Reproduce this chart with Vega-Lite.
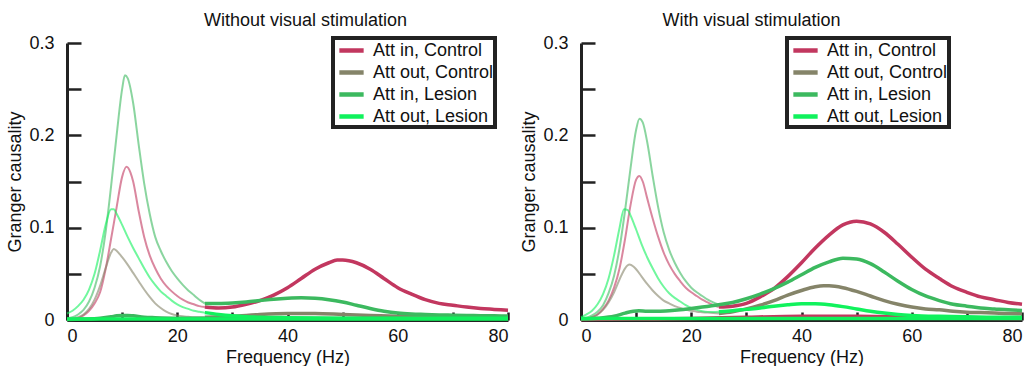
{
"$schema": "https://vega.github.io/schema/vega-lite/v6.json",
"background": "white",
"padding": {"left": 6, "top": 12, "right": 0, "bottom": 0},
"config": {
  "font": "Liberation Sans",
  "view": {"stroke": null},
  "concat": {"spacing": 5},
  "axis": {"grid": false, "domainColor": "#222", "domainWidth": 3, "tickColor": "#222", "tickWidth": 2.5, "labelFont": "Liberation Sans", "labelFontSize": 18, "labelColor": "#111", "titleFont": "Liberation Sans", "titleFontSize": 18, "titleFontWeight": "normal", "titleColor": "#111"},
  "title": {"font": "Liberation Sans", "fontSize": 18, "fontWeight": "normal", "color": "#111"},
  "legend": {"labelFont": "Liberation Sans", "labelFontSize": 18, "labelColor": "#111", "symbolType": "M-1.35,0H1.35", "symbolStrokeWidth": 4.5, "symbolSize": 324, "symbolOpacity": 1, "symbolFillColor": "transparent", "symbolOffset": 6, "rowPadding": 1, "padding": 1, "labelOffset": 10, "strokeColor": "#222", "fillColor": "white", "labelLimit": 300}
},
"datasets": {"curves": [
{"p":"L","s":"Att in, Control","k":"faded","f":0,"g":0},{"p":"L","s":"Att in, Control","k":"faded","f":1,"g":0.0005},{"p":"L","s":"Att in, Control","k":"faded","f":2,"g":0.002},{"p":"L","s":"Att in, Control","k":"faded","f":3,"g":0.005},{"p":"L","s":"Att in, Control","k":"faded","f":4,"g":0.01},{"p":"L","s":"Att in, Control","k":"faded","f":5,"g":0.018},{"p":"L","s":"Att in, Control","k":"faded","f":6,"g":0.03},{"p":"L","s":"Att in, Control","k":"faded","f":7,"g":0.055},{"p":"L","s":"Att in, Control","k":"faded","f":8,"g":0.088},{"p":"L","s":"Att in, Control","k":"faded","f":9,"g":0.122},{"p":"L","s":"Att in, Control","k":"faded","f":10,"g":0.155},{"p":"L","s":"Att in, Control","k":"faded","f":10.8,"g":0.166},{"p":"L","s":"Att in, Control","k":"faded","f":11.5,"g":0.16},{"p":"L","s":"Att in, Control","k":"faded","f":12,"g":0.15},{"p":"L","s":"Att in, Control","k":"faded","f":13,"g":0.118},{"p":"L","s":"Att in, Control","k":"faded","f":14,"g":0.09},{"p":"L","s":"Att in, Control","k":"faded","f":15,"g":0.07},{"p":"L","s":"Att in, Control","k":"faded","f":16,"g":0.056},{"p":"L","s":"Att in, Control","k":"faded","f":17,"g":0.045},{"p":"L","s":"Att in, Control","k":"faded","f":18,"g":0.037},{"p":"L","s":"Att in, Control","k":"faded","f":19,"g":0.031},{"p":"L","s":"Att in, Control","k":"faded","f":20,"g":0.026},{"p":"L","s":"Att in, Control","k":"faded","f":21,"g":0.022},{"p":"L","s":"Att in, Control","k":"faded","f":22,"g":0.019},{"p":"L","s":"Att in, Control","k":"faded","f":23,"g":0.017},{"p":"L","s":"Att in, Control","k":"faded","f":24,"g":0.015},{"p":"L","s":"Att in, Control","k":"faded","f":25,"g":0.014},
{"p":"L","s":"Att in, Control","k":"main","f":25,"g":0.014},{"p":"L","s":"Att in, Control","k":"main","f":27.5,"g":0.013},{"p":"L","s":"Att in, Control","k":"main","f":30,"g":0.014},{"p":"L","s":"Att in, Control","k":"main","f":32.5,"g":0.017},{"p":"L","s":"Att in, Control","k":"main","f":35,"g":0.021},{"p":"L","s":"Att in, Control","k":"main","f":37.5,"g":0.027},{"p":"L","s":"Att in, Control","k":"main","f":40,"g":0.035},{"p":"L","s":"Att in, Control","k":"main","f":42.5,"g":0.045},{"p":"L","s":"Att in, Control","k":"main","f":45,"g":0.055},{"p":"L","s":"Att in, Control","k":"main","f":47.5,"g":0.062},{"p":"L","s":"Att in, Control","k":"main","f":49,"g":0.065},{"p":"L","s":"Att in, Control","k":"main","f":50,"g":0.065},{"p":"L","s":"Att in, Control","k":"main","f":52.5,"g":0.062},{"p":"L","s":"Att in, Control","k":"main","f":55,"g":0.055},{"p":"L","s":"Att in, Control","k":"main","f":57.5,"g":0.045},{"p":"L","s":"Att in, Control","k":"main","f":60,"g":0.035},{"p":"L","s":"Att in, Control","k":"main","f":62.5,"g":0.028},{"p":"L","s":"Att in, Control","k":"main","f":65,"g":0.022},{"p":"L","s":"Att in, Control","k":"main","f":67.5,"g":0.018},{"p":"L","s":"Att in, Control","k":"main","f":70,"g":0.016},{"p":"L","s":"Att in, Control","k":"main","f":72.5,"g":0.014},{"p":"L","s":"Att in, Control","k":"main","f":75,"g":0.0125},{"p":"L","s":"Att in, Control","k":"main","f":77.5,"g":0.0115},{"p":"L","s":"Att in, Control","k":"main","f":80,"g":0.0105},
{"p":"L","s":"Att out, Control","k":"faded","f":0,"g":0},{"p":"L","s":"Att out, Control","k":"faded","f":1,"g":0.001},{"p":"L","s":"Att out, Control","k":"faded","f":2,"g":0.003},{"p":"L","s":"Att out, Control","k":"faded","f":3,"g":0.006},{"p":"L","s":"Att out, Control","k":"faded","f":4,"g":0.012},{"p":"L","s":"Att out, Control","k":"faded","f":5,"g":0.022},{"p":"L","s":"Att out, Control","k":"faded","f":6,"g":0.037},{"p":"L","s":"Att out, Control","k":"faded","f":7,"g":0.056},{"p":"L","s":"Att out, Control","k":"faded","f":8,"g":0.073},{"p":"L","s":"Att out, Control","k":"faded","f":8.5,"g":0.077},{"p":"L","s":"Att out, Control","k":"faded","f":9,"g":0.075},{"p":"L","s":"Att out, Control","k":"faded","f":10,"g":0.068},{"p":"L","s":"Att out, Control","k":"faded","f":11,"g":0.06},{"p":"L","s":"Att out, Control","k":"faded","f":12,"g":0.051},{"p":"L","s":"Att out, Control","k":"faded","f":13,"g":0.042},{"p":"L","s":"Att out, Control","k":"faded","f":14,"g":0.033},{"p":"L","s":"Att out, Control","k":"faded","f":15,"g":0.025},{"p":"L","s":"Att out, Control","k":"faded","f":16,"g":0.018},{"p":"L","s":"Att out, Control","k":"faded","f":17,"g":0.013},{"p":"L","s":"Att out, Control","k":"faded","f":18,"g":0.009},{"p":"L","s":"Att out, Control","k":"faded","f":19,"g":0.0065},{"p":"L","s":"Att out, Control","k":"faded","f":20,"g":0.005},{"p":"L","s":"Att out, Control","k":"faded","f":21,"g":0.004},{"p":"L","s":"Att out, Control","k":"faded","f":22,"g":0.0035},{"p":"L","s":"Att out, Control","k":"faded","f":23,"g":0.003},{"p":"L","s":"Att out, Control","k":"faded","f":25,"g":0.003},
{"p":"L","s":"Att out, Control","k":"main","f":25,"g":0.003},{"p":"L","s":"Att out, Control","k":"main","f":30,"g":0.004},{"p":"L","s":"Att out, Control","k":"main","f":35,"g":0.006},{"p":"L","s":"Att out, Control","k":"main","f":40,"g":0.007},{"p":"L","s":"Att out, Control","k":"main","f":45,"g":0.007},{"p":"L","s":"Att out, Control","k":"main","f":50,"g":0.006},{"p":"L","s":"Att out, Control","k":"main","f":55,"g":0.005},{"p":"L","s":"Att out, Control","k":"main","f":60,"g":0.004},{"p":"L","s":"Att out, Control","k":"main","f":65,"g":0.0035},{"p":"L","s":"Att out, Control","k":"main","f":70,"g":0.003},{"p":"L","s":"Att out, Control","k":"main","f":75,"g":0.0028},{"p":"L","s":"Att out, Control","k":"main","f":80,"g":0.0025},
{"p":"L","s":"Att in, Lesion","k":"faded","f":0,"g":0.002},{"p":"L","s":"Att in, Lesion","k":"faded","f":1,"g":0.003},{"p":"L","s":"Att in, Lesion","k":"faded","f":2,"g":0.006},{"p":"L","s":"Att in, Lesion","k":"faded","f":3,"g":0.011},{"p":"L","s":"Att in, Lesion","k":"faded","f":4,"g":0.02},{"p":"L","s":"Att in, Lesion","k":"faded","f":5,"g":0.035},{"p":"L","s":"Att in, Lesion","k":"faded","f":6,"g":0.058},{"p":"L","s":"Att in, Lesion","k":"faded","f":7,"g":0.095},{"p":"L","s":"Att in, Lesion","k":"faded","f":8,"g":0.145},{"p":"L","s":"Att in, Lesion","k":"faded","f":9,"g":0.2},{"p":"L","s":"Att in, Lesion","k":"faded","f":10,"g":0.25},{"p":"L","s":"Att in, Lesion","k":"faded","f":10.5,"g":0.265},{"p":"L","s":"Att in, Lesion","k":"faded","f":11,"g":0.262},{"p":"L","s":"Att in, Lesion","k":"faded","f":12,"g":0.235},{"p":"L","s":"Att in, Lesion","k":"faded","f":13,"g":0.19},{"p":"L","s":"Att in, Lesion","k":"faded","f":14,"g":0.148},{"p":"L","s":"Att in, Lesion","k":"faded","f":15,"g":0.115},{"p":"L","s":"Att in, Lesion","k":"faded","f":16,"g":0.09},{"p":"L","s":"Att in, Lesion","k":"faded","f":17,"g":0.075},{"p":"L","s":"Att in, Lesion","k":"faded","f":18,"g":0.063},{"p":"L","s":"Att in, Lesion","k":"faded","f":19,"g":0.053},{"p":"L","s":"Att in, Lesion","k":"faded","f":20,"g":0.045},{"p":"L","s":"Att in, Lesion","k":"faded","f":21,"g":0.038},{"p":"L","s":"Att in, Lesion","k":"faded","f":22,"g":0.032},{"p":"L","s":"Att in, Lesion","k":"faded","f":23,"g":0.027},{"p":"L","s":"Att in, Lesion","k":"faded","f":24,"g":0.022},{"p":"L","s":"Att in, Lesion","k":"faded","f":25,"g":0.018},
{"p":"L","s":"Att in, Lesion","k":"main","f":25,"g":0.018},{"p":"L","s":"Att in, Lesion","k":"main","f":27.5,"g":0.018},{"p":"L","s":"Att in, Lesion","k":"main","f":30,"g":0.0185},{"p":"L","s":"Att in, Lesion","k":"main","f":32.5,"g":0.0195},{"p":"L","s":"Att in, Lesion","k":"main","f":35,"g":0.021},{"p":"L","s":"Att in, Lesion","k":"main","f":37.5,"g":0.0225},{"p":"L","s":"Att in, Lesion","k":"main","f":40,"g":0.0235},{"p":"L","s":"Att in, Lesion","k":"main","f":42.5,"g":0.024},{"p":"L","s":"Att in, Lesion","k":"main","f":45,"g":0.0235},{"p":"L","s":"Att in, Lesion","k":"main","f":47.5,"g":0.022},{"p":"L","s":"Att in, Lesion","k":"main","f":50,"g":0.0195},{"p":"L","s":"Att in, Lesion","k":"main","f":52.5,"g":0.016},{"p":"L","s":"Att in, Lesion","k":"main","f":55,"g":0.0125},{"p":"L","s":"Att in, Lesion","k":"main","f":57.5,"g":0.0095},{"p":"L","s":"Att in, Lesion","k":"main","f":60,"g":0.0075},{"p":"L","s":"Att in, Lesion","k":"main","f":62.5,"g":0.0065},{"p":"L","s":"Att in, Lesion","k":"main","f":65,"g":0.006},{"p":"L","s":"Att in, Lesion","k":"main","f":67.5,"g":0.0055},{"p":"L","s":"Att in, Lesion","k":"main","f":70,"g":0.0052},{"p":"L","s":"Att in, Lesion","k":"main","f":72.5,"g":0.005},{"p":"L","s":"Att in, Lesion","k":"main","f":75,"g":0.0047},{"p":"L","s":"Att in, Lesion","k":"main","f":77.5,"g":0.0045},{"p":"L","s":"Att in, Lesion","k":"main","f":80,"g":0.0043},
{"p":"L","s":"Att in, Lesion","k":"base","f":0,"g":0.0005},{"p":"L","s":"Att in, Lesion","k":"base","f":3,"g":0.001},{"p":"L","s":"Att in, Lesion","k":"base","f":6,"g":0.002},{"p":"L","s":"Att in, Lesion","k":"base","f":8,"g":0.0035},{"p":"L","s":"Att in, Lesion","k":"base","f":9,"g":0.0045},{"p":"L","s":"Att in, Lesion","k":"base","f":10,"g":0.005},{"p":"L","s":"Att in, Lesion","k":"base","f":11,"g":0.005},{"p":"L","s":"Att in, Lesion","k":"base","f":12,"g":0.0045},{"p":"L","s":"Att in, Lesion","k":"base","f":14,"g":0.003},{"p":"L","s":"Att in, Lesion","k":"base","f":16,"g":0.0025},{"p":"L","s":"Att in, Lesion","k":"base","f":20,"g":0.002},{"p":"L","s":"Att in, Lesion","k":"base","f":30,"g":0.002},{"p":"L","s":"Att in, Lesion","k":"base","f":40,"g":0.002},{"p":"L","s":"Att in, Lesion","k":"base","f":60,"g":0.0015},{"p":"L","s":"Att in, Lesion","k":"base","f":80,"g":0.0015},
{"p":"L","s":"Att out, Lesion","k":"faded","f":0,"g":0.007},{"p":"L","s":"Att out, Lesion","k":"faded","f":1,"g":0.01},{"p":"L","s":"Att out, Lesion","k":"faded","f":2,"g":0.015},{"p":"L","s":"Att out, Lesion","k":"faded","f":3,"g":0.022},{"p":"L","s":"Att out, Lesion","k":"faded","f":4,"g":0.033},{"p":"L","s":"Att out, Lesion","k":"faded","f":5,"g":0.05},{"p":"L","s":"Att out, Lesion","k":"faded","f":6,"g":0.075},{"p":"L","s":"Att out, Lesion","k":"faded","f":7,"g":0.103},{"p":"L","s":"Att out, Lesion","k":"faded","f":8,"g":0.12},{"p":"L","s":"Att out, Lesion","k":"faded","f":8.5,"g":0.12},{"p":"L","s":"Att out, Lesion","k":"faded","f":9,"g":0.115},{"p":"L","s":"Att out, Lesion","k":"faded","f":10,"g":0.103},{"p":"L","s":"Att out, Lesion","k":"faded","f":11,"g":0.09},{"p":"L","s":"Att out, Lesion","k":"faded","f":12,"g":0.078},{"p":"L","s":"Att out, Lesion","k":"faded","f":13,"g":0.067},{"p":"L","s":"Att out, Lesion","k":"faded","f":14,"g":0.056},{"p":"L","s":"Att out, Lesion","k":"faded","f":15,"g":0.046},{"p":"L","s":"Att out, Lesion","k":"faded","f":16,"g":0.038},{"p":"L","s":"Att out, Lesion","k":"faded","f":17,"g":0.031},{"p":"L","s":"Att out, Lesion","k":"faded","f":18,"g":0.026},{"p":"L","s":"Att out, Lesion","k":"faded","f":19,"g":0.021},{"p":"L","s":"Att out, Lesion","k":"faded","f":20,"g":0.017},{"p":"L","s":"Att out, Lesion","k":"faded","f":21,"g":0.014},{"p":"L","s":"Att out, Lesion","k":"faded","f":22,"g":0.012},{"p":"L","s":"Att out, Lesion","k":"faded","f":23,"g":0.01},{"p":"L","s":"Att out, Lesion","k":"faded","f":24,"g":0.009},{"p":"L","s":"Att out, Lesion","k":"faded","f":25,"g":0.008},
{"p":"L","s":"Att out, Lesion","k":"main","f":25,"g":0.008},{"p":"L","s":"Att out, Lesion","k":"main","f":27.5,"g":0.006},{"p":"L","s":"Att out, Lesion","k":"main","f":30,"g":0.0045},{"p":"L","s":"Att out, Lesion","k":"main","f":32.5,"g":0.0035},{"p":"L","s":"Att out, Lesion","k":"main","f":35,"g":0.003},{"p":"L","s":"Att out, Lesion","k":"main","f":40,"g":0.0025},{"p":"L","s":"Att out, Lesion","k":"main","f":50,"g":0.002},{"p":"L","s":"Att out, Lesion","k":"main","f":60,"g":0.002},{"p":"L","s":"Att out, Lesion","k":"main","f":70,"g":0.0018},{"p":"L","s":"Att out, Lesion","k":"main","f":80,"g":0.0018},
{"p":"L","s":"Att out, Lesion","k":"base","f":0,"g":0.001},{"p":"L","s":"Att out, Lesion","k":"base","f":20,"g":0.001},{"p":"L","s":"Att out, Lesion","k":"base","f":40,"g":0.0012},{"p":"L","s":"Att out, Lesion","k":"base","f":60,"g":0.0012},{"p":"L","s":"Att out, Lesion","k":"base","f":80,"g":0.0012},

{"p":"R","s":"Att in, Control","k":"faded","f":0,"g":0},{"p":"R","s":"Att in, Control","k":"faded","f":1,"g":0.001},{"p":"R","s":"Att in, Control","k":"faded","f":2,"g":0.003},{"p":"R","s":"Att in, Control","k":"faded","f":3,"g":0.006},{"p":"R","s":"Att in, Control","k":"faded","f":4,"g":0.012},{"p":"R","s":"Att in, Control","k":"faded","f":5,"g":0.021},{"p":"R","s":"Att in, Control","k":"faded","f":6,"g":0.035},{"p":"R","s":"Att in, Control","k":"faded","f":7,"g":0.056},{"p":"R","s":"Att in, Control","k":"faded","f":8,"g":0.088},{"p":"R","s":"Att in, Control","k":"faded","f":9,"g":0.125},{"p":"R","s":"Att in, Control","k":"faded","f":10,"g":0.152},{"p":"R","s":"Att in, Control","k":"faded","f":10.6,"g":0.156},{"p":"R","s":"Att in, Control","k":"faded","f":11.2,"g":0.15},{"p":"R","s":"Att in, Control","k":"faded","f":12,"g":0.132},{"p":"R","s":"Att in, Control","k":"faded","f":13,"g":0.11},{"p":"R","s":"Att in, Control","k":"faded","f":14,"g":0.09},{"p":"R","s":"Att in, Control","k":"faded","f":15,"g":0.073},{"p":"R","s":"Att in, Control","k":"faded","f":16,"g":0.06},{"p":"R","s":"Att in, Control","k":"faded","f":17,"g":0.05},{"p":"R","s":"Att in, Control","k":"faded","f":18,"g":0.042},{"p":"R","s":"Att in, Control","k":"faded","f":19,"g":0.035},{"p":"R","s":"Att in, Control","k":"faded","f":20,"g":0.03},{"p":"R","s":"Att in, Control","k":"faded","f":21,"g":0.026},{"p":"R","s":"Att in, Control","k":"faded","f":22,"g":0.022},{"p":"R","s":"Att in, Control","k":"faded","f":23,"g":0.019},{"p":"R","s":"Att in, Control","k":"faded","f":24,"g":0.016},{"p":"R","s":"Att in, Control","k":"faded","f":25,"g":0.014},
{"p":"R","s":"Att in, Control","k":"main","f":25,"g":0.014},{"p":"R","s":"Att in, Control","k":"main","f":27.5,"g":0.015},{"p":"R","s":"Att in, Control","k":"main","f":30,"g":0.018},{"p":"R","s":"Att in, Control","k":"main","f":32.5,"g":0.025},{"p":"R","s":"Att in, Control","k":"main","f":35,"g":0.034},{"p":"R","s":"Att in, Control","k":"main","f":37.5,"g":0.047},{"p":"R","s":"Att in, Control","k":"main","f":40,"g":0.062},{"p":"R","s":"Att in, Control","k":"main","f":42.5,"g":0.078},{"p":"R","s":"Att in, Control","k":"main","f":45,"g":0.092},{"p":"R","s":"Att in, Control","k":"main","f":47.5,"g":0.103},{"p":"R","s":"Att in, Control","k":"main","f":50,"g":0.107},{"p":"R","s":"Att in, Control","k":"main","f":52.5,"g":0.104},{"p":"R","s":"Att in, Control","k":"main","f":55,"g":0.095},{"p":"R","s":"Att in, Control","k":"main","f":57.5,"g":0.082},{"p":"R","s":"Att in, Control","k":"main","f":60,"g":0.068},{"p":"R","s":"Att in, Control","k":"main","f":62.5,"g":0.055},{"p":"R","s":"Att in, Control","k":"main","f":65,"g":0.045},{"p":"R","s":"Att in, Control","k":"main","f":67.5,"g":0.036},{"p":"R","s":"Att in, Control","k":"main","f":70,"g":0.03},{"p":"R","s":"Att in, Control","k":"main","f":72.5,"g":0.025},{"p":"R","s":"Att in, Control","k":"main","f":75,"g":0.022},{"p":"R","s":"Att in, Control","k":"main","f":77.5,"g":0.019},{"p":"R","s":"Att in, Control","k":"main","f":80,"g":0.017},
{"p":"R","s":"Att in, Control","k":"base","f":0,"g":0.0005},{"p":"R","s":"Att in, Control","k":"base","f":10,"g":0.001},{"p":"R","s":"Att in, Control","k":"base","f":20,"g":0.0015},{"p":"R","s":"Att in, Control","k":"base","f":30,"g":0.003},{"p":"R","s":"Att in, Control","k":"base","f":40,"g":0.004},{"p":"R","s":"Att in, Control","k":"base","f":50,"g":0.004},{"p":"R","s":"Att in, Control","k":"base","f":60,"g":0.003},{"p":"R","s":"Att in, Control","k":"base","f":70,"g":0.002},{"p":"R","s":"Att in, Control","k":"base","f":80,"g":0.0015},
{"p":"R","s":"Att out, Control","k":"faded","f":0,"g":0},{"p":"R","s":"Att out, Control","k":"faded","f":1,"g":0.001},{"p":"R","s":"Att out, Control","k":"faded","f":2,"g":0.003},{"p":"R","s":"Att out, Control","k":"faded","f":3,"g":0.006},{"p":"R","s":"Att out, Control","k":"faded","f":4,"g":0.011},{"p":"R","s":"Att out, Control","k":"faded","f":5,"g":0.019},{"p":"R","s":"Att out, Control","k":"faded","f":6,"g":0.03},{"p":"R","s":"Att out, Control","k":"faded","f":7,"g":0.044},{"p":"R","s":"Att out, Control","k":"faded","f":8,"g":0.056},{"p":"R","s":"Att out, Control","k":"faded","f":8.8,"g":0.06},{"p":"R","s":"Att out, Control","k":"faded","f":9.5,"g":0.058},{"p":"R","s":"Att out, Control","k":"faded","f":10,"g":0.055},{"p":"R","s":"Att out, Control","k":"faded","f":11,"g":0.047},{"p":"R","s":"Att out, Control","k":"faded","f":12,"g":0.039},{"p":"R","s":"Att out, Control","k":"faded","f":13,"g":0.032},{"p":"R","s":"Att out, Control","k":"faded","f":14,"g":0.026},{"p":"R","s":"Att out, Control","k":"faded","f":15,"g":0.021},{"p":"R","s":"Att out, Control","k":"faded","f":16,"g":0.018},{"p":"R","s":"Att out, Control","k":"faded","f":17,"g":0.015},{"p":"R","s":"Att out, Control","k":"faded","f":18,"g":0.013},{"p":"R","s":"Att out, Control","k":"faded","f":19,"g":0.011},{"p":"R","s":"Att out, Control","k":"faded","f":20,"g":0.01},{"p":"R","s":"Att out, Control","k":"faded","f":21,"g":0.009},{"p":"R","s":"Att out, Control","k":"faded","f":22,"g":0.0085},{"p":"R","s":"Att out, Control","k":"faded","f":23,"g":0.008},{"p":"R","s":"Att out, Control","k":"faded","f":24,"g":0.0075},{"p":"R","s":"Att out, Control","k":"faded","f":25,"g":0.007},
{"p":"R","s":"Att out, Control","k":"main","f":25,"g":0.007},{"p":"R","s":"Att out, Control","k":"main","f":27.5,"g":0.009},{"p":"R","s":"Att out, Control","k":"main","f":30,"g":0.012},{"p":"R","s":"Att out, Control","k":"main","f":32.5,"g":0.016},{"p":"R","s":"Att out, Control","k":"main","f":35,"g":0.021},{"p":"R","s":"Att out, Control","k":"main","f":37.5,"g":0.027},{"p":"R","s":"Att out, Control","k":"main","f":40,"g":0.032},{"p":"R","s":"Att out, Control","k":"main","f":42.5,"g":0.036},{"p":"R","s":"Att out, Control","k":"main","f":44,"g":0.037},{"p":"R","s":"Att out, Control","k":"main","f":45,"g":0.037},{"p":"R","s":"Att out, Control","k":"main","f":47.5,"g":0.035},{"p":"R","s":"Att out, Control","k":"main","f":50,"g":0.031},{"p":"R","s":"Att out, Control","k":"main","f":52.5,"g":0.026},{"p":"R","s":"Att out, Control","k":"main","f":55,"g":0.021},{"p":"R","s":"Att out, Control","k":"main","f":57.5,"g":0.017},{"p":"R","s":"Att out, Control","k":"main","f":60,"g":0.014},{"p":"R","s":"Att out, Control","k":"main","f":62.5,"g":0.012},{"p":"R","s":"Att out, Control","k":"main","f":65,"g":0.011},{"p":"R","s":"Att out, Control","k":"main","f":67.5,"g":0.0095},{"p":"R","s":"Att out, Control","k":"main","f":70,"g":0.0085},{"p":"R","s":"Att out, Control","k":"main","f":72.5,"g":0.008},{"p":"R","s":"Att out, Control","k":"main","f":75,"g":0.0075},{"p":"R","s":"Att out, Control","k":"main","f":77.5,"g":0.007},{"p":"R","s":"Att out, Control","k":"main","f":80,"g":0.0068},
{"p":"R","s":"Att in, Lesion","k":"faded","f":0,"g":0.002},{"p":"R","s":"Att in, Lesion","k":"faded","f":1,"g":0.0025},{"p":"R","s":"Att in, Lesion","k":"faded","f":2,"g":0.005},{"p":"R","s":"Att in, Lesion","k":"faded","f":3,"g":0.009},{"p":"R","s":"Att in, Lesion","k":"faded","f":4,"g":0.016},{"p":"R","s":"Att in, Lesion","k":"faded","f":5,"g":0.029},{"p":"R","s":"Att in, Lesion","k":"faded","f":6,"g":0.048},{"p":"R","s":"Att in, Lesion","k":"faded","f":7,"g":0.078},{"p":"R","s":"Att in, Lesion","k":"faded","f":8,"g":0.119},{"p":"R","s":"Att in, Lesion","k":"faded","f":9,"g":0.165},{"p":"R","s":"Att in, Lesion","k":"faded","f":10,"g":0.206},{"p":"R","s":"Att in, Lesion","k":"faded","f":10.6,"g":0.218},{"p":"R","s":"Att in, Lesion","k":"faded","f":11.2,"g":0.214},{"p":"R","s":"Att in, Lesion","k":"faded","f":12,"g":0.193},{"p":"R","s":"Att in, Lesion","k":"faded","f":13,"g":0.156},{"p":"R","s":"Att in, Lesion","k":"faded","f":14,"g":0.122},{"p":"R","s":"Att in, Lesion","k":"faded","f":15,"g":0.095},{"p":"R","s":"Att in, Lesion","k":"faded","f":16,"g":0.076},{"p":"R","s":"Att in, Lesion","k":"faded","f":17,"g":0.062},{"p":"R","s":"Att in, Lesion","k":"faded","f":18,"g":0.051},{"p":"R","s":"Att in, Lesion","k":"faded","f":19,"g":0.042},{"p":"R","s":"Att in, Lesion","k":"faded","f":20,"g":0.035},{"p":"R","s":"Att in, Lesion","k":"faded","f":21,"g":0.03},{"p":"R","s":"Att in, Lesion","k":"faded","f":22,"g":0.026},{"p":"R","s":"Att in, Lesion","k":"faded","f":23,"g":0.022},{"p":"R","s":"Att in, Lesion","k":"faded","f":24,"g":0.019},{"p":"R","s":"Att in, Lesion","k":"faded","f":25,"g":0.0165},
{"p":"R","s":"Att in, Lesion","k":"main","f":0,"g":0.001},{"p":"R","s":"Att in, Lesion","k":"main","f":3,"g":0.002},{"p":"R","s":"Att in, Lesion","k":"main","f":6,"g":0.004},{"p":"R","s":"Att in, Lesion","k":"main","f":8,"g":0.0075},{"p":"R","s":"Att in, Lesion","k":"main","f":9.5,"g":0.0095},{"p":"R","s":"Att in, Lesion","k":"main","f":10.5,"g":0.01},{"p":"R","s":"Att in, Lesion","k":"main","f":12,"g":0.0095},{"p":"R","s":"Att in, Lesion","k":"main","f":14,"g":0.0095},{"p":"R","s":"Att in, Lesion","k":"main","f":16,"g":0.01},{"p":"R","s":"Att in, Lesion","k":"main","f":18,"g":0.011},{"p":"R","s":"Att in, Lesion","k":"main","f":20,"g":0.0125},{"p":"R","s":"Att in, Lesion","k":"main","f":22,"g":0.014},{"p":"R","s":"Att in, Lesion","k":"main","f":25,"g":0.0165},{"p":"R","s":"Att in, Lesion","k":"main","f":27.5,"g":0.019},{"p":"R","s":"Att in, Lesion","k":"main","f":30,"g":0.023},{"p":"R","s":"Att in, Lesion","k":"main","f":32.5,"g":0.028},{"p":"R","s":"Att in, Lesion","k":"main","f":35,"g":0.034},{"p":"R","s":"Att in, Lesion","k":"main","f":37.5,"g":0.041},{"p":"R","s":"Att in, Lesion","k":"main","f":40,"g":0.049},{"p":"R","s":"Att in, Lesion","k":"main","f":42.5,"g":0.057},{"p":"R","s":"Att in, Lesion","k":"main","f":45,"g":0.063},{"p":"R","s":"Att in, Lesion","k":"main","f":47.5,"g":0.067},{"p":"R","s":"Att in, Lesion","k":"main","f":50,"g":0.066},{"p":"R","s":"Att in, Lesion","k":"main","f":52.5,"g":0.061},{"p":"R","s":"Att in, Lesion","k":"main","f":55,"g":0.052},{"p":"R","s":"Att in, Lesion","k":"main","f":57.5,"g":0.042},{"p":"R","s":"Att in, Lesion","k":"main","f":60,"g":0.033},{"p":"R","s":"Att in, Lesion","k":"main","f":62.5,"g":0.026},{"p":"R","s":"Att in, Lesion","k":"main","f":65,"g":0.021},{"p":"R","s":"Att in, Lesion","k":"main","f":67.5,"g":0.017},{"p":"R","s":"Att in, Lesion","k":"main","f":70,"g":0.015},{"p":"R","s":"Att in, Lesion","k":"main","f":72.5,"g":0.013},{"p":"R","s":"Att in, Lesion","k":"main","f":75,"g":0.012},{"p":"R","s":"Att in, Lesion","k":"main","f":77.5,"g":0.011},{"p":"R","s":"Att in, Lesion","k":"main","f":80,"g":0.0104},
{"p":"R","s":"Att out, Lesion","k":"faded","f":0,"g":0.003},{"p":"R","s":"Att out, Lesion","k":"faded","f":1,"g":0.006},{"p":"R","s":"Att out, Lesion","k":"faded","f":2,"g":0.01},{"p":"R","s":"Att out, Lesion","k":"faded","f":3,"g":0.017},{"p":"R","s":"Att out, Lesion","k":"faded","f":4,"g":0.028},{"p":"R","s":"Att out, Lesion","k":"faded","f":5,"g":0.045},{"p":"R","s":"Att out, Lesion","k":"faded","f":6,"g":0.07},{"p":"R","s":"Att out, Lesion","k":"faded","f":7,"g":0.1},{"p":"R","s":"Att out, Lesion","k":"faded","f":7.8,"g":0.12},{"p":"R","s":"Att out, Lesion","k":"faded","f":8.5,"g":0.119},{"p":"R","s":"Att out, Lesion","k":"faded","f":9,"g":0.113},{"p":"R","s":"Att out, Lesion","k":"faded","f":10,"g":0.098},{"p":"R","s":"Att out, Lesion","k":"faded","f":11,"g":0.082},{"p":"R","s":"Att out, Lesion","k":"faded","f":12,"g":0.068},{"p":"R","s":"Att out, Lesion","k":"faded","f":13,"g":0.056},{"p":"R","s":"Att out, Lesion","k":"faded","f":14,"g":0.045},{"p":"R","s":"Att out, Lesion","k":"faded","f":15,"g":0.036},{"p":"R","s":"Att out, Lesion","k":"faded","f":16,"g":0.029},{"p":"R","s":"Att out, Lesion","k":"faded","f":17,"g":0.024},{"p":"R","s":"Att out, Lesion","k":"faded","f":18,"g":0.02},{"p":"R","s":"Att out, Lesion","k":"faded","f":19,"g":0.016},{"p":"R","s":"Att out, Lesion","k":"faded","f":20,"g":0.013},{"p":"R","s":"Att out, Lesion","k":"faded","f":21,"g":0.011},{"p":"R","s":"Att out, Lesion","k":"faded","f":22,"g":0.0095},{"p":"R","s":"Att out, Lesion","k":"faded","f":23,"g":0.0088},{"p":"R","s":"Att out, Lesion","k":"faded","f":24,"g":0.0087},{"p":"R","s":"Att out, Lesion","k":"faded","f":25,"g":0.009},
{"p":"R","s":"Att out, Lesion","k":"main","f":25,"g":0.009},{"p":"R","s":"Att out, Lesion","k":"main","f":27.5,"g":0.01},{"p":"R","s":"Att out, Lesion","k":"main","f":30,"g":0.0115},{"p":"R","s":"Att out, Lesion","k":"main","f":32.5,"g":0.013},{"p":"R","s":"Att out, Lesion","k":"main","f":35,"g":0.015},{"p":"R","s":"Att out, Lesion","k":"main","f":37.5,"g":0.0165},{"p":"R","s":"Att out, Lesion","k":"main","f":40,"g":0.0175},{"p":"R","s":"Att out, Lesion","k":"main","f":42.5,"g":0.0175},{"p":"R","s":"Att out, Lesion","k":"main","f":45,"g":0.0165},{"p":"R","s":"Att out, Lesion","k":"main","f":47.5,"g":0.0145},{"p":"R","s":"Att out, Lesion","k":"main","f":50,"g":0.012},{"p":"R","s":"Att out, Lesion","k":"main","f":52.5,"g":0.0095},{"p":"R","s":"Att out, Lesion","k":"main","f":55,"g":0.0075},{"p":"R","s":"Att out, Lesion","k":"main","f":57.5,"g":0.006},{"p":"R","s":"Att out, Lesion","k":"main","f":60,"g":0.005},{"p":"R","s":"Att out, Lesion","k":"main","f":65,"g":0.004},{"p":"R","s":"Att out, Lesion","k":"main","f":70,"g":0.0035},{"p":"R","s":"Att out, Lesion","k":"main","f":75,"g":0.003},{"p":"R","s":"Att out, Lesion","k":"main","f":80,"g":0.003},
{"p":"R","s":"Att out, Lesion","k":"base","f":0,"g":0.0015},{"p":"R","s":"Att out, Lesion","k":"base","f":20,"g":0.0015},{"p":"R","s":"Att out, Lesion","k":"base","f":40,"g":0.0015},{"p":"R","s":"Att out, Lesion","k":"base","f":60,"g":0.0015},{"p":"R","s":"Att out, Lesion","k":"base","f":80,"g":0.0015}
]},
"data": {"name": "curves"},
"resolve": {"legend": {"color": "independent"}},
"hconcat": [
 {
  "width": 441, "height": 277,
  "title": {"text": "Without visual stimulation", "dx": 18, "offset": 4},
  "transform": [{"filter": "datum.p == 'L'"}],
  "encoding": {
    "x": {"field": "f", "type": "quantitative", "scale": {"domain": [0, 80], "nice": false},
      "axis": {"title": "Frequency (Hz)", "values": [0,10,20,30,40,50,60,70,80], "labelExpr": "datum.value % 20 == 0 ? datum.label : ''", "tickSize": -8, "labelPadding": 15, "titlePadding": 3}},
    "y": {"field": "g", "type": "quantitative", "scale": {"domain": [0, 0.3], "nice": false},
      "axis": {"title": "Granger causality", "values": [0,0.05,0.1,0.15,0.2,0.25,0.3], "format": ".2~f", "labelExpr": "indexof(['0','0.1','0.2','0.3'], datum.label) >= 0 ? datum.label : ''", "tickSize": -14, "labelPadding": 27, "titlePadding": 4}},
    "color": {"field": "s", "type": "nominal",
      "scale": {"domain": ["Att in, Control", "Att out, Control", "Att in, Lesion", "Att out, Lesion"], "range": ["#c2375f", "#858469", "#3cb95f", "#10f25c"]},
      "legend": {"title": null, "orient": "none", "legendX": 266, "legendY": -5, "encode": {"legend": {"update": {"strokeWidth": {"value": 4}, "width": {"value": 166}}}}}}
  },
  "layer": [
    {"transform": [{"filter": "datum.k == 'faded'"}], "mark": {"type": "line", "strokeWidth": 2, "opacity": 0.6, "interpolate": "monotone"}},
    {"transform": [{"filter": "datum.k != 'faded'"}], "mark": {"type": "line", "strokeWidth": 3.5, "interpolate": "monotone"}, "encoding": {"detail": {"field": "k"}}}
  ]
 },
 {
  "width": 441, "height": 277,
  "title": {"text": "With visual stimulation", "dx": -50, "offset": 4},
  "transform": [{"filter": "datum.p == 'R'"}],
  "encoding": {
    "x": {"field": "f", "type": "quantitative", "scale": {"domain": [0, 80], "nice": false},
      "axis": {"title": "Frequency (Hz)", "values": [0,10,20,30,40,50,60,70,80], "labelExpr": "datum.value % 20 == 0 ? datum.label : ''", "tickSize": -8, "labelPadding": 15, "titlePadding": 3}},
    "y": {"field": "g", "type": "quantitative", "scale": {"domain": [0, 0.3], "nice": false},
      "axis": {"title": "Granger causality", "values": [0,0.05,0.1,0.15,0.2,0.25,0.3], "format": ".2~f", "labelExpr": "indexof(['0','0.1','0.2','0.3'], datum.label) >= 0 ? datum.label : ''", "tickSize": -14, "labelPadding": 27, "titlePadding": 4}},
    "color": {"field": "s", "type": "nominal",
      "scale": {"domain": ["Att in, Control", "Att out, Control", "Att in, Lesion", "Att out, Lesion"], "range": ["#c2375f", "#858469", "#3cb95f", "#10f25c"]},
      "legend": {"title": null, "orient": "none", "legendX": 206, "legendY": -5, "encode": {"legend": {"update": {"strokeWidth": {"value": 4}, "width": {"value": 166}}}}}}
  },
  "layer": [
    {"transform": [{"filter": "datum.k == 'faded'"}], "mark": {"type": "line", "strokeWidth": 2, "opacity": 0.6, "interpolate": "monotone"}},
    {"transform": [{"filter": "datum.k != 'faded'"}], "mark": {"type": "line", "strokeWidth": 3.5, "interpolate": "monotone"}, "encoding": {"detail": {"field": "k"}}}
  ]
 }
]
}
